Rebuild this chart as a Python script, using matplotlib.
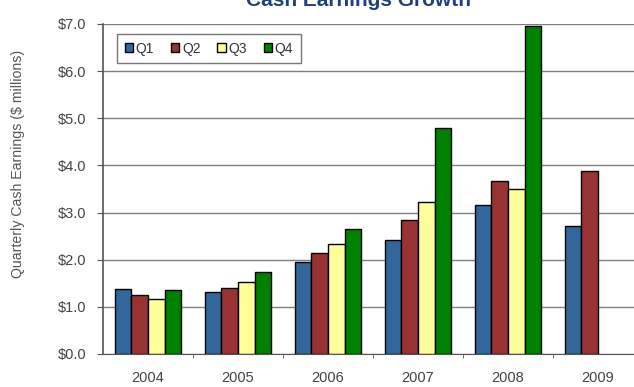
import matplotlib
matplotlib.use("Agg")
import matplotlib.pyplot as plt
import numpy as np

plt.rcParams['font.family'] = ['Liberation Sans', 'DejaVu Sans']

years = ['2004', '2005', '2006', '2007', '2008', '2009']
quarters = ['Q1', 'Q2', 'Q3', 'Q4']
q1 = [1.38, 1.32, 1.96, 2.41, 3.16, 2.72]
q2 = [1.25, 1.41, 2.15, 2.84, 3.68, 3.88]
q3 = [1.16, 1.52, 2.33, 3.23, 3.50, np.nan]
q4 = [1.36, 1.73, 2.65, 4.80, 6.95, np.nan]
colors = ['#33669A', '#993333', '#FFFF99', '#008000']

fig = plt.figure(figsize=(6.34, 3.87), dpi=100)
ax = fig.add_axes([103/634, 33/387, 540/634, 330/387])

x = np.arange(len(years))
w = 0.185
for i, vals in enumerate([q1, q2, q3, q4]):
    ax.bar(x + (i - 1.5) * w, vals, w, color=colors[i], edgecolor='black',
           linewidth=1.0, label=quarters[i], zorder=3)

ax.set_xlim(-0.5, len(years) - 0.5)
ax.set_ylim(0, 7.0)
ax.set_yticks(np.arange(0, 7.5, 1.0))
ax.set_yticklabels(['${:.1f}'.format(v) for v in np.arange(0, 7.5, 1.0)])
ax.yaxis.grid(True, color='#7f7f7f', linewidth=1.0, zorder=0)

# year labels at group centres, tick marks at group boundaries
ax.set_xticks(x)
ax.set_xticklabels(years)
ax.tick_params(axis='x', length=0, pad=12, labelsize=10.5, labelcolor='#444444')
ax.set_xticks(np.arange(0.5, len(years) - 0.5, 1.0), minor=True)
ax.tick_params(axis='x', which='minor', length=3, color='#555555', direction='out')
ax.tick_params(axis='y', length=4, color='#555555', labelsize=10.5,
               labelcolor='#444444', pad=8)

for s in ['top', 'right']:
    ax.spines[s].set_visible(False)
ax.spines['left'].set_color('#555555')
ax.spines['bottom'].set_color('#555555')
ax.spines['left'].set_linewidth(1.2)

ax.set_ylabel('Quarterly Cash Earnings ($ millions)', fontsize=10.2,
              color='#555555')
ax.yaxis.set_label_coords(-0.144, 0.576)

leg = ax.legend(loc='upper left', ncol=4, fontsize=10, frameon=True,
                fancybox=False, edgecolor='#555555', handlelength=0.6,
                handleheight=0.6, handletextpad=0.2, columnspacing=1.2,
                bbox_to_anchor=(0.026, 0.97), borderaxespad=0, borderpad=0.55)
leg.get_frame().set_linewidth(1.0)
for t in leg.get_texts():
    t.set_color('#333333')

fig.text(358/634, 1 - 0/387, 'Cash Earnings Growth', ha='center', va='center',
         fontsize=15, fontweight='bold', color='#1F3F7F')

fig.savefig('out.png', dpi=100)
